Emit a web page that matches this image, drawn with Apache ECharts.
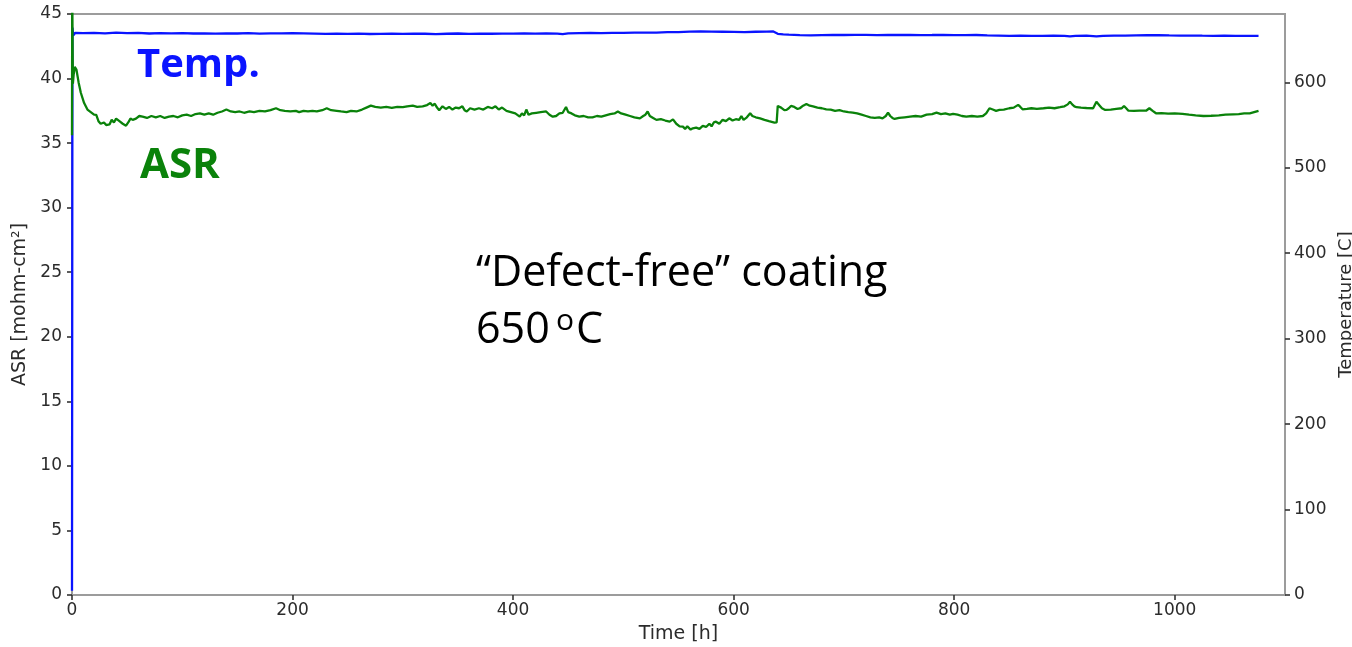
<!DOCTYPE html>
<html>
<head>
<meta charset="utf-8">
<title>ASR and temperature vs time</title>
<script src="https://cdn.jsdelivr.net/npm/echarts@6/dist/echarts.min.js"></script>
<style>
  html, body { margin: 0; padding: 0; background: #ffffff; }
  #chart { width: 1352px; height: 647px; }
</style>
</head>
<body>
<div id="chart"></div>
<script>
// Area-specific resistance (mohm-cm^2) logged over the run
const asrHours = [
  0, 0.2, 0.8, 1.5, 2.5, 3.2, 4, 6, 8, 11, 14, 17, 20, 22, 24, 26, 29, 31, 34, 36, 38, 40, 43, 46, 49, 51, 53, 55, 58,
  61, 64, 68, 72, 76, 80, 84, 88, 92, 96, 100, 104, 108, 112, 116, 120, 124, 128, 132, 136, 140, 144,
  148, 152, 156, 161, 165, 170, 175, 180, 185, 189, 193, 198, 203, 206, 210, 214, 218, 222, 227, 231,
  235, 240, 244, 249, 253, 258, 263, 267, 271, 275, 280, 285, 290, 295, 300, 304, 309, 313, 318, 322,
  325, 327, 329, 331, 333, 336, 339, 342, 345, 348, 351, 354, 356, 358, 361, 365, 369, 373, 377, 381,
  384, 387, 390, 394, 398, 402, 406, 408, 410, 412, 414, 417, 421, 425, 430, 433, 436, 439, 442, 445,
  448, 450, 453, 456, 460, 464, 468, 472, 476, 480, 484, 488, 492, 495, 498, 502, 506, 510, 515, 518,
  520, 522, 524, 527, 530, 534, 538, 542, 545, 548, 551, 554, 556, 558, 561, 563, 566, 569, 572, 575,
  578, 580, 582, 584, 587, 590, 593, 596, 599, 602, 605, 607, 609, 612, 615, 617, 620, 624, 628, 632,
  637, 639, 640, 643, 646, 648, 650, 652, 655, 658, 660, 663, 666, 669, 672, 676, 680, 684, 688, 692,
  696, 700, 704, 708, 712, 716, 720, 724, 728, 732, 735, 738, 740, 742, 744, 746, 750, 755, 760, 765,
  770, 775, 780, 784, 788, 792, 796, 799, 803, 807, 811, 816, 821, 826, 829, 832, 835, 838, 841, 845,
  850, 854, 858, 860, 862, 866, 870, 875, 881, 886, 891, 896, 900, 903, 905, 907, 909, 911, 915, 920,
  926, 929, 932, 934, 937, 942, 947, 952, 954, 956, 958, 963, 968, 974, 977, 980, 983, 988, 994, 1000,
  1007, 1013, 1019, 1026, 1033, 1040, 1046, 1053, 1058, 1063, 1068, 1072, 1076
];
const asrValues = [
  35.6, 47.0, 39.6, 40.3, 40.9, 41.05, 40.7, 39.7, 38.9, 38.1, 37.6, 37.4, 37.2, 37.18, 36.7, 36.5, 36.6, 36.4, 36.45, 36.8, 36.6, 36.9, 36.7, 36.5, 36.35, 36.6, 36.9, 36.8, 36.9,
  37.1, 37.05, 36.95, 37.1, 37.0, 37.1, 36.95, 37.05, 37.1, 37.0, 37.15, 37.2, 37.1, 37.25, 37.3, 37.2, 37.3, 37.2, 37.35, 37.45, 37.6, 37.45,
  37.4, 37.45, 37.35, 37.45, 37.4, 37.5, 37.45, 37.55, 37.7, 37.55, 37.5, 37.45, 37.5, 37.4, 37.5, 37.45, 37.5, 37.45, 37.55, 37.7,
  37.55, 37.5, 37.45, 37.4, 37.5, 37.45, 37.6, 37.75, 37.9, 37.8, 37.75, 37.8, 37.72, 37.8, 37.78, 37.85, 37.9, 37.8, 37.85, 37.95,
  38.1, 37.9, 38.05, 37.75, 37.55, 37.85, 37.65, 37.8, 37.6, 37.75, 37.7, 37.85, 37.55, 37.45, 37.7, 37.6, 37.7, 37.6, 37.8, 37.7,
  37.85, 37.6, 37.75, 37.5, 37.4, 37.3, 37.05, 37.3, 37.15, 37.6, 37.2, 37.3, 37.35, 37.4, 37.45, 37.2, 37.05, 37.1, 37.3, 37.35,
  37.8, 37.4, 37.3, 37.15, 37.05, 37.1, 37.0, 37.0, 37.1, 37.05, 37.15, 37.25, 37.3, 37.45, 37.3, 37.2, 37.1, 37.0, 36.92, 37.1,
  37.2, 37.45, 37.1, 36.95, 36.8, 36.85, 36.75, 36.66, 36.84, 36.5, 36.3, 36.28, 36.1, 36.3, 36.05, 36.15, 36.2, 36.1, 36.33, 36.25,
  36.5, 36.3, 36.6, 36.66, 36.5, 36.8, 36.7, 36.92, 36.75, 36.85, 36.8, 37.1, 36.8, 37.0, 37.31, 37.1, 37.0, 36.92, 36.8, 36.7,
  36.58, 36.6, 37.88, 37.75, 37.55, 37.57, 37.7, 37.88, 37.8, 37.65, 37.7, 37.9, 38.03, 37.9, 37.85, 37.75, 37.7, 37.62, 37.6, 37.5,
  37.55, 37.45, 37.4, 37.36, 37.3, 37.2, 37.1, 37.0, 36.95, 37.0, 36.92, 37.1, 37.36, 37.1, 36.95, 36.87, 36.95, 37.0, 37.05, 37.1,
  37.05, 37.2, 37.25, 37.36, 37.25, 37.3, 37.2, 37.26, 37.2, 37.1, 37.05, 37.1, 37.05, 37.1, 37.3, 37.7, 37.6, 37.5, 37.57, 37.6,
  37.7, 37.75, 37.96, 37.8, 37.62, 37.65, 37.7, 37.65, 37.7, 37.75, 37.7, 37.78, 37.85, 38.0, 38.2, 38.0, 37.85, 37.78, 37.75, 37.72,
  37.7, 38.2, 37.9, 37.7, 37.57, 37.6, 37.65, 37.7, 37.88, 37.7, 37.51, 37.5, 37.52, 37.51, 37.7, 37.5, 37.31, 37.33, 37.28, 37.3,
  37.26, 37.2, 37.15, 37.1, 37.12, 37.15, 37.2, 37.23, 37.25, 37.3, 37.3, 37.4, 37.5
];

// Furnace temperature (C) logged over the run
const tempHours = [
  0, 0.4, 1.2, 3, 10, 20, 30, 40, 50, 60, 70, 80, 90, 100, 110, 120, 130, 140, 150, 160, 170, 180, 190,
  200, 210, 220, 230, 240, 250, 260, 270, 280, 290, 300, 310, 320, 330, 340, 350, 360, 370, 380, 390,
  400, 410, 420, 430, 440, 445, 450, 460, 470, 480, 490, 500, 510, 520, 530, 540, 550, 560, 570, 580,
  590, 600, 610, 620, 630, 636, 640, 645, 650, 660, 670, 680, 690, 700, 710, 720, 730, 740, 750, 760,
  770, 780, 790, 800, 810, 820, 830, 840, 850, 860, 870, 880, 890, 900, 905, 910, 920, 929, 935, 945,
  955, 965, 975, 985, 995, 1005, 1015, 1025, 1035, 1045, 1055, 1065, 1076
];
const tempValues = [
  5, 664, 655, 658, 657.5, 658, 657.3, 658.2, 657.6, 657.8, 657.2, 657.6, 657.3, 657.5, 657.2, 657.4, 657.1, 657.4, 657.2, 657.5, 657.1, 657.4, 657.3,
  657.6, 657.4, 657.1, 656.7, 657.0, 656.8, 657.0, 656.6, 656.8, 657.0, 656.8, 657.1, 656.9, 656.5, 656.9, 657.2, 656.8, 657.1, 656.9, 657.0,
  657.1, 657.3, 657.0, 657.4, 657.1, 656.4, 657.3, 657.6, 657.8, 657.6, 658.0, 657.8, 658.1, 658.3, 658.2, 658.7, 658.9, 659.4, 659.6, 659.3,
  659.2, 659.0, 658.8, 659.2, 659.4, 659.5, 656.8, 656.2, 655.8, 655.2, 655.0, 655.3, 655.6, 655.4, 655.6, 655.5, 655.3, 655.6, 655.4, 655.5,
  655.3, 655.4, 655.6, 655.3, 655.2, 655.4, 655.0, 654.8, 654.4, 654.7, 654.5, 654.3, 654.6, 654.4, 653.7, 654.3, 654.6, 653.8, 654.5, 654.8,
  654.6, 655.0, 655.3, 655.1, 654.9, 654.8, 654.8, 654.6, 654.5, 654.6, 654.5, 654.4, 654.3
];

// Axis tick positions
const timeTicks = [0, 200, 400, 600, 800, 1000];
const asrTicks = [0, 5, 10, 15, 20, 25, 30, 35, 40, 45];
const tempTicks = [0, 100, 200, 300, 400, 500, 600];

const asrSeries = asrHours.map((h, i) => [h, asrValues[i]]);
const tempSeries = tempHours.map((h, i) => [h, tempValues[i]]);

const plain = v => String(v);
const tickFont = { fontFamily: 'DejaVu Sans', fontSize: 17, color: '#2b2b2b', formatter: plain };
const nameFont = { fontFamily: 'DejaVu Sans', fontSize: 19, color: '#2b2b2b' };
const tickStyle = { show: true, length: 5, lineStyle: { color: '#333333', width: 1.6 } };

const chart = echarts.init(document.getElementById('chart'), null, { renderer: 'canvas' });
chart.setOption({
  animation: false,
  backgroundColor: '#ffffff',
  grid: {
    left: 72, right: 67, top: 14, bottom: 52,
    containLabel: false, outerBoundsMode: 'none',
    show: true, borderColor: '#9c9c9c', borderWidth: 2, backgroundColor: 'transparent'
  },
  xAxis: {
    type: 'value', min: 0, max: 1100,
    name: 'Time [h]', nameLocation: 'middle', nameGap: 30,
    nameTextStyle: nameFont,
    axisLine: { show: false },
    axisTick: Object.assign({ customValues: timeTicks }, tickStyle),
    axisLabel: Object.assign({ customValues: timeTicks, margin: 7 }, tickFont),
    splitLine: { show: false }
  },
  yAxis: [
    {
      type: 'value', min: asrTicks[0], max: asrTicks[asrTicks.length - 1], interval: 5,
      name: 'ASR [mohm-cm²]', nameLocation: 'middle', nameGap: 41,
      nameTextStyle: nameFont,
      axisLine: { show: false },
      axisTick: tickStyle,
      axisLabel: Object.assign({ margin: 10 }, tickFont),
      splitLine: { show: false }
    },
    {
      type: 'value', min: 0, max: 680, position: 'right',
      name: 'Temperature [C]', nameLocation: 'middle', nameGap: 46,
      nameTextStyle: { fontFamily: 'DejaVu Sans', fontSize: 18, color: '#2b2b2b' },
      axisLine: { show: false },
      axisTick: Object.assign({ customValues: tempTicks }, tickStyle),
      axisLabel: Object.assign({ customValues: tempTicks, margin: 9 }, tickFont),
      splitLine: { show: false }
    }
  ],
  series: [
    {
      name: 'Temp.', type: 'line', yAxisIndex: 1, data: tempSeries,
      showSymbol: false, clip: true,
      lineStyle: { color: '#0a14ff', width: 2.3 }
    },
    {
      name: 'ASR', type: 'line', yAxisIndex: 0, data: asrSeries,
      showSymbol: false, clip: true,
      lineStyle: { color: '#0a820a', width: 2.3 }
    }
  ],
  graphic: [
    {
      type: 'text', left: 137, top: 46,
      style: { text: 'Temp.', fill: '#0a14ff', font: 'bold 40px "Open Sans"' }
    },
    {
      type: 'text', left: 140, top: 145,
      style: { text: 'ASR', fill: '#0a820a', font: 'bold 42px "Open Sans"' }
    },
    {
      type: 'text', left: 476, top: 252,
      style: { text: '“Defect-free” coating', fill: '#000000', font: '43px "Open Sans"' }
    },
    {
      type: 'text', left: 476, top: 309,
      style: { text: '650', fill: '#000000', font: '43px "Open Sans"' }
    },
    {
      type: 'text', left: 556, top: 306,
      style: { text: 'o', fill: '#000000', font: '30px "Open Sans"' }
    },
    {
      type: 'text', left: 576, top: 309,
      style: { text: 'C', fill: '#000000', font: '43px "Open Sans"' }
    }
  ]
});
</script>
</body>
</html>
